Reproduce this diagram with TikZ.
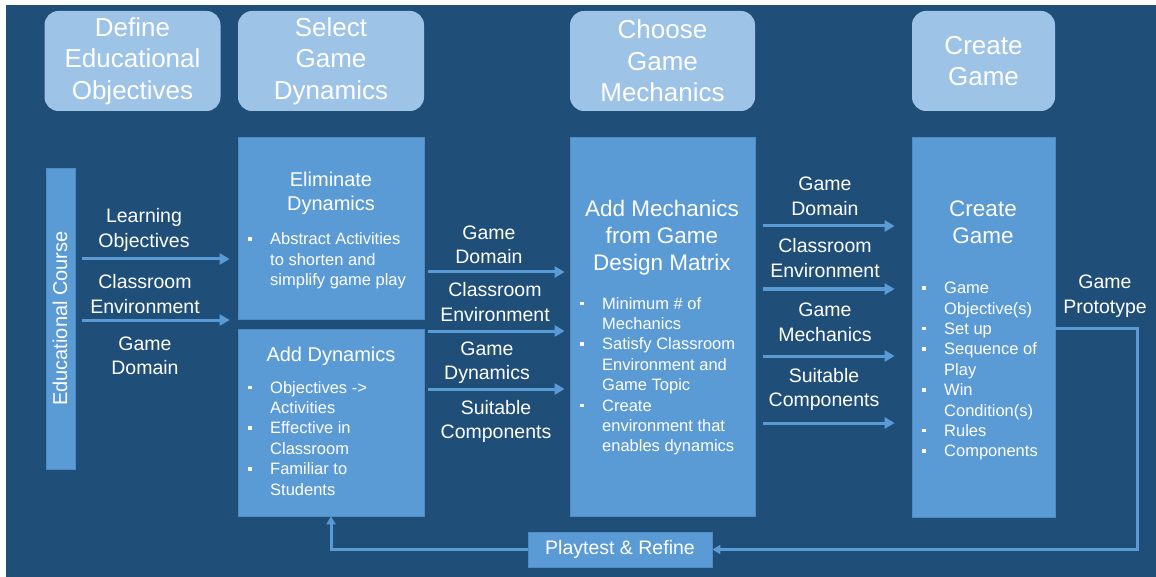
\documentclass[tikz,border=0pt]{standalone}
\usepackage{fontspec}
\setmainfont{Liberation Sans}
\usetikzlibrary{arrows.meta,positioning}
\definecolor{bgblue}{HTML}{1F4E79}
\definecolor{hdrblue}{HTML}{9DC3E6}
\definecolor{boxblue}{HTML}{5B9BD5}
\definecolor{boxedge}{HTML}{4F8CC4}
\newcommand{\bul}{\rule[4pt]{3.5pt}{3.5pt}}
\newenvironment{bullets}{\begin{tabular}[t]{@{}p{22pt}@{}l@{}}}{\end{tabular}}

\begin{document}
\begin{tikzpicture}[x=1pt,y=-1pt,
    hdr/.style={rectangle,rounded corners=14pt,fill=hdrblue,text=white,
      minimum height=100pt,inner sep=0pt,align=center,
      font=\fontsize{26}{31.5}\selectfont},
    stage/.style={rectangle,fill=boxblue,draw=boxedge,line width=0.8pt,inner sep=0pt},
    ttl/.style={text=white,align=center,inner sep=0pt},
    lbl/.style={text=white,align=center,inner sep=0pt,
      font=\fontsize{19.5}{24.5}\selectfont},
    blist/.style={text=white,inner sep=0pt,anchor=base west,
      font=\fontsize{16.5}{20.4}\selectfont},
    arr/.style={draw=boxblue,line width=3pt,-{Triangle[length=10pt,width=11pt]}},
    fb/.style={draw=boxblue,line width=3pt,-{Triangle[length=8pt,width=9pt]}}]
  \useasboundingbox (0,0) rectangle (1156,577);
  \fill[white] (0,0) rectangle (1156,577);
  \fill[bgblue] (6,5) rectangle (1156,577);

  % phase headers
  \node[hdr,minimum width=176pt] (hdefine) at (132.5,61) {Define\\Educational\\Objectives};
  \node[hdr,minimum width=186pt] (hselect) at (331,61) {Select\\Game\\Dynamics};
  \node[hdr,minimum width=185pt] (hchoose) at (662.5,61) {Choose\\Game\\Mechanics};
  \node[hdr,minimum width=143pt] (hcreate) at (983.5,61) {Create\\Game};

  % stage boxes
  \node[stage,minimum width=29pt,minimum height=301pt] (course) at (60.5,318.5) {};
  \node[stage,minimum width=186pt,minimum height=182pt] (elim) at (331,228) {};
  \node[stage,minimum width=186pt,minimum height=187pt] (adddyn) at (331,422.5) {};
  \node[stage,minimum width=185pt,minimum height=379pt] (addmech) at (662.5,326.5) {};
  \node[stage,minimum width=143pt,minimum height=380pt] (create) at (983.5,327) {};
  \node[stage,minimum width=184pt,minimum height=35pt,text=white,
    font=\fontsize{19.5}{24}\selectfont] (play) at (620,549.5) {Playtest \& Refine};

  \node[ttl,rotate=90,font=\fontsize{20}{24}\selectfont] (coursetxt) at (60,318.5) {Educational Course};

  % texts inside the stages
  \node[ttl,font=\fontsize{20}{24}\selectfont] (elimttl) at (331,193) {Eliminate\\Dynamics};
  \node[blist] (elimlist) at (248,245) {\begin{bullets}
      \bul & Abstract Activities\\ & to shorten and\\ & simplify game play
    \end{bullets}};
  \node[ttl,font=\fontsize{20}{24}\selectfont] (adddynttl) at (331,356) {Add Dynamics};
  \node[blist] (adddynlist) at (248,393) {\begin{bullets}
      \bul & Objectives ->\\ & Activities\\
      \bul & Effective in\\ & Classroom\\
      \bul & Familiar to\\ & Students
    \end{bullets}};
  \node[ttl,font=\fontsize{22.5}{27}\selectfont] (addmechttl) at (662,238) {Add Mechanics\\from Game\\Design Matrix};
  \node[blist] (addmechlist) at (580,309) {\begin{bullets}
      \bul & Minimum \# of\\ & Mechanics\\
      \bul & Satisfy Classroom\\ & Environment and\\ & Game Topic\\
      \bul & Create\\ & environment that\\ & enables dynamics
    \end{bullets}};
  \node[ttl,font=\fontsize{22.5}{27}\selectfont] (createttl) at (983,222.5) {Create\\Game};
  \node[blist] (createlist) at (922,293.6) {\begin{bullets}
      \bul & Game\\ & Objective(s)\\
      \bul & Set up\\
      \bul & Sequence of\\ & Play\\
      \bul & Win\\ & Condition(s)\\
      \bul & Rules\\
      \bul & Components
    \end{bullets}};

  % flow labels
  \node[lbl] (lo1) at (144,230) {Learning\\Objectives};
  \node[lbl] (ce1) at (145,294) {Classroom\\Environment};
  \node[lbl] (gd1) at (145,356) {Game\\Domain};
  \node[lbl] (gd2) at (489,245) {Game\\Domain};
  \node[lbl] (ce2) at (495,302) {Classroom\\Environment};
  \node[lbl] (gdyn2) at (487,362.5) {Game\\Dynamics};
  \node[lbl] (sc2) at (496,421.5) {Suitable\\Components};
  \node[lbl] (gd3) at (825,196.5) {Game\\Domain};
  \node[lbl] (ce3) at (825,258) {Classroom\\Environment};
  \node[lbl] (gm3) at (825,322.5) {Game\\Mechanics};
  \node[lbl] (sc3) at (824,389.5) {Suitable\\Components};
  \node[lbl] (proto) at (1105,296) {Game\\Prototype};

  % flow arrows
  \draw[arr,shorten <=7pt,shorten >=8pt] (course.east |- 0,259) -- (elim.west |- 0,259);
  \draw[arr,shorten <=7pt,shorten >=8pt] (course.east |- 0,320) -- (elim.west |- 0,320);
  \draw[arr,shorten <=4pt,shorten >=5pt] (elim.east |- 0,272) -- (addmech.west |- 0,272);
  \draw[arr,shorten <=4pt,shorten >=5pt] (adddyn.east |- 0,331) -- (addmech.west |- 0,331);
  \draw[arr,shorten <=4pt,shorten >=5pt] (adddyn.east |- 0,389) -- (addmech.west |- 0,389);
  \draw[arr,shorten <=8pt,shorten >=17pt] (addmech.east |- 0,226) -- (create.west |- 0,226);
  \draw[arr,shorten <=8pt,shorten >=17pt] (addmech.east |- 0,289) -- (create.west |- 0,289);
  \draw[arr,shorten <=8pt,shorten >=17pt] (addmech.east |- 0,356) -- (create.west |- 0,356);
  \draw[arr,shorten <=8pt,shorten >=17pt] (addmech.east |- 0,423) -- (create.west |- 0,423);

  % feedback loop
  \coordinate (loopcorner) at (1137.5,549.5);
  \draw[fb] (create.east |- 0,328) -| (loopcorner) -- (play.east);
  \draw[fb] (play.west) -| (adddyn.south);
\end{tikzpicture}
\end{document}
